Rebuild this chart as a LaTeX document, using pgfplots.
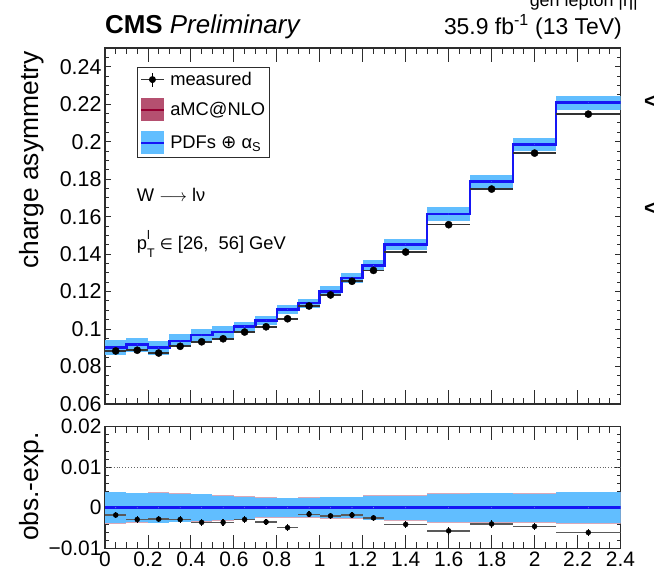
\documentclass[border=0pt]{standalone}
\usepackage{pgfplots}
\pgfplotsset{compat=1.18}
\usepackage{pgfplotstable}
\usepackage{fontspec}
\setmainfont{Liberation Sans}
\newfontfamily\symfont{DejaVu Sans}

\definecolor{pdfband}{RGB}{97,190,255}
\definecolor{pdfline}{RGB}{22,22,245}
\definecolor{amcband}{RGB}{181,80,112}
\definecolor{amcline}{RGB}{150,0,50}
\definecolor{framec}{RGB}{45,45,45}

\newcommand{\fs}[1]{\fontsize{#1}{#1}\selectfont}

% predicted asymmetry per bin: left edge, bin width, value, PDF+alpha_S half-width
\pgfplotstableread{
edge   w     pred    band
0.0    0.1   0.0901  0.0038
0.1    0.1   0.0916  0.0036
0.2    0.1   0.0900  0.0037
0.3    0.1   0.0937  0.0034
0.4    0.1   0.0968  0.0033
0.5    0.1   0.0984  0.0030
0.6    0.1   0.1013  0.0027
0.7    0.1   0.1047  0.0024
0.8    0.1   0.1104  0.0023
0.9    0.1   0.1139  0.0024
1.0    0.1   0.1202  0.0026
1.1    0.1   0.1273  0.0026
1.2    0.1   0.1338  0.0029
1.3    0.2   0.1452  0.0030
1.5    0.2   0.1614  0.0035
1.7    0.2   0.1787  0.0036
1.9    0.2   0.1985  0.0035
2.1    0.3   0.2208  0.0038
2.4    0.0   0.2208  0.0038
}\predtab

% measured asymmetry at bin centres, bin half-width, residual and its error
\pgfplotstableread{
x     dx    meas    res      err
0.05  0.05  0.0883  -0.0018  0.0008
0.15  0.05  0.0887  -0.0029  0.0008
0.25  0.05  0.0872  -0.0028  0.0008
0.35  0.05  0.0908  -0.0029  0.0008
0.45  0.05  0.0932  -0.0036  0.0008
0.55  0.05  0.0948  -0.0036  0.0008
0.65  0.05  0.0984  -0.0029  0.0008
0.75  0.05  0.1012  -0.0035  0.0008
0.85  0.05  0.1055  -0.0049  0.0008
0.95  0.05  0.1123  -0.0016  0.0008
1.05  0.05  0.1182  -0.0020  0.0008
1.15  0.05  0.1255  -0.0018  0.0008
1.25  0.05  0.1313  -0.0025  0.0008
1.4   0.1   0.1411  -0.0041  0.0008
1.6   0.1   0.1557  -0.0057  0.0009
1.8   0.1   0.1747  -0.0040  0.0009
2.0   0.1   0.1939  -0.0046  0.0009
2.25  0.15  0.2147  -0.0061  0.0009
}\meastab

% one bin-wide uncertainty box per bin, drawn as a butt-capped error bar
% #1 colour, #2 extra half-width, #3 domain, #4 bar width, #5 centre value
\newcommand{\bandboxes}[5]{%
  \addplot[forget plot, only marks, mark=*, mark size=0.01bp, #1,
    restrict x to domain=#3,
    error bars/.cd, y dir=both, y explicit, error mark=none,
    error bar style={#1, line width=#4, line cap=butt}]
    table[x expr=\thisrow{edge}+0.5*\thisrow{w}, y expr=#5,
          y error expr=\thisrow{band}+#2] {\predtab};}

\pgfplotsset{
  cmsframe/.style={
    scale only axis,
    xmin=0, xmax=2.4,
    axis line style={framec, line width=1.1bp},
    every tick/.style={framec, line width=0.9bp},
    tick align=inside,
    scaled ticks=false,
    xtick={0,0.2,0.4,0.6,0.8,1,1.2,1.4,1.6,1.8,2,2.2,2.4},
    minor xtick={0,0.05,...,2.4},
    /pgf/number format/assume math mode=true,
  },
}

\begin{document}
\begin{tikzpicture}

% ---------------- upper pad: charge asymmetry ----------------
\begin{axis}[cmsframe,
  at={(105bp,172bp)}, anchor=south west,
  width=515.5bp, height=356bp,
  ymin=0.06, ymax=0.25,
  xticklabels={},
  ytick={0.06,0.08,0.1,0.12,0.14,0.16,0.18,0.2,0.22,0.24},
  minor ytick={0.06,0.065,...,0.25},
  xtick style={/pgfplots/major tick length=14bp, /pgfplots/minor tick length=6bp},
  ytick style={/pgfplots/major tick length=6bp, /pgfplots/minor tick length=3.5bp},
  yticklabel style={font=\fs{21.5}, /pgf/number format/fixed, /pgf/number format/precision=2},
  ylabel={charge asymmetry},
  ylabel style={font=\fs{26.5}, at={(axis description cs:-0.1416,0.685)}, anchor=center},
  legend cell align=left,
  legend style={at={(axis description cs:0.0615,0.946)}, anchor=north west,
    draw=framec, line width=0.9bp, fill=white, font=\fs{18.4},
    inner xsep=3bp, inner ysep=3bp, row sep=10bp,
    nodes={inner sep=1.5bp},
    /tikz/every odd column/.append style={column sep=4bp}},
]
% PDFs + alpha_S band (the aMC@NLO band lies underneath and is covered by it here)
\bandboxes{pdfband}{0}{0:1.3}{21.48bp}{\thisrow{pred}}
\bandboxes{pdfband}{0}{1.3:2.1}{42.96bp}{\thisrow{pred}}
\bandboxes{pdfband}{0}{2.1:2.35}{64.44bp}{\thisrow{pred}}
% central prediction
\addplot[pdfline, line width=2.6bp, const plot, forget plot] table[x=edge, y=pred] {\predtab};
% measured points
\addplot[forget plot, only marks, mark=*, mark size=0.01bp, black!80,
  error bars/.cd, x dir=both, x explicit, error mark=none,
  error bar style={line width=1.6bp}] table[x=x, y=meas, x error=dx] {\meastab};
\addplot[forget plot, only marks, mark=*, mark size=3.6bp, black,
  error bars/.cd, y dir=both, y explicit, error mark=none,
  error bar style={line width=1.3bp}] table[x=x, y=meas, y error=err] {\meastab};

% legend
\addlegendimage{legend image code/.code={
  \draw[black!80, line width=1.2bp] (0bp,0bp) -- (22.6bp,0bp);
  \draw[black, line width=1.2bp] (11.3bp,-7bp) -- (11.3bp,7bp);
  \fill[black] (11.3bp,0bp) circle (3bp);}}
\addlegendentry{measured}
\addlegendimage{legend image code/.code={
  \fill[amcband] (0bp,-11bp) rectangle (22.6bp,11bp);
  \draw[amcline, line width=1.5bp] (0bp,0bp) -- (22.6bp,0bp);}}
\addlegendentry{aMC@NLO}
\addlegendimage{legend image code/.code={
  \fill[pdfband] (0bp,-11bp) rectangle (22.6bp,11bp);
  \draw[pdfline, line width=2bp] (0bp,0bp) -- (22.6bp,0bp);}}
\addlegendentry{PDFs {\symfont⊕} α\textsubscript{S}}

\node[anchor=base west, inner sep=0, font=\fs{18.4}] at (axis description cs:0.0615,0.568) {W $\longrightarrow$ lν};
\node[anchor=base west, inner sep=0, font=\fs{18.4}] at (axis description cs:0.0615,0.435)
  {p\rlap{\raisebox{0.55em}{\fs{12.5}l}}\raisebox{-0.45em}{\fs{12.5}T} {\symfont\fs{15}∈} [26,\ \ 56] GeV};
\end{axis}

% ---------------- lower pad: obs. - exp. ----------------
\begin{axis}[cmsframe,
  at={(105bp,27.7bp)}, anchor=south west,
  width=515.5bp, height=121.6bp,
  ymin=-0.01, ymax=0.02,
  ytick={-0.01,0,0.01,0.02},
  yticklabels={−0.01,0,0.01,0.02},
  minor ytick={-0.01,-0.008,...,0.02},
  xtick style={/pgfplots/major tick length=13bp, /pgfplots/minor tick length=6.5bp},
  ytick style={/pgfplots/major tick length=6bp, /pgfplots/minor tick length=3.5bp},
  yticklabel style={font=\fs{21}},
  xticklabel style={font=\fs{21}, /pgf/number format/fixed, /pgf/number format/precision=1},
  ylabel={obs.-exp.},
  ylabel style={font=\fs{26.5}, at={(axis description cs:-0.1416,0.507)}, anchor=center},
]
\bandboxes{amcband!50}{0.00015}{0:1.3}{21.48bp}{0}
\bandboxes{amcband!50}{0.00015}{1.3:2.1}{42.96bp}{0}
\bandboxes{amcband!50}{0.00015}{2.1:2.35}{64.44bp}{0}
\bandboxes{pdfband}{0}{0:1.3}{21.48bp}{0}
\bandboxes{pdfband}{0}{1.3:2.1}{42.96bp}{0}
\bandboxes{pdfband}{0}{2.1:2.35}{64.44bp}{0}
\addplot[black!60, dotted, line width=0.9bp] coordinates {(0,0.01) (2.4,0.01)};
\addplot[pdfline, line width=2.6bp] coordinates {(0,0) (2.4,0)};
\addplot[only marks, mark=*, mark size=0.01bp, black!65,
  error bars/.cd, x dir=both, x explicit, error mark=none,
  error bar style={line width=1.5bp}] table[x=x, y=res, x error=dx] {\meastab};
\addplot[only marks, mark=*, mark size=2.5bp, black,
  error bars/.cd, y dir=both, y explicit, error mark=none,
  error bar style={line width=1.3bp}] table[x=x, y=res, y error=err] {\meastab};
\end{axis}

% header texts
\node[anchor=base west, inner sep=0, font=\fs{26}] at (105bp,542bp) {\textbf{CMS} \textit{Preliminary}};
\node[anchor=base east, inner sep=0, font=\fs{23}] at (622bp,541bp) {35.9 fb\textsuperscript{-1} (13 TeV)};
\node[anchor=base east, inner sep=0, font=\fs{18}] at (638bp,569bp) {gen lepton |η|};
\node[anchor=base west, inner sep=0, font=\fs{22}\bfseries] at (644bp,467bp) {<};
\node[anchor=base west, inner sep=0, font=\fs{22}\bfseries] at (644bp,360bp) {<};

\pgfresetboundingbox
\useasboundingbox (0,0) rectangle (654bp,576bp);
\end{tikzpicture}
\end{document}
